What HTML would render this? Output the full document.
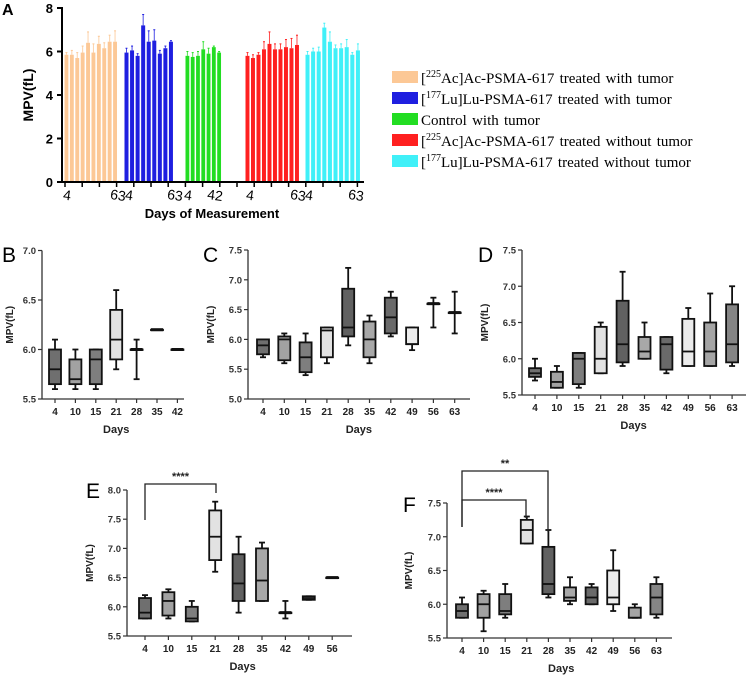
<!DOCTYPE html>
<html><head><meta charset="utf-8"><style>
body{margin:0;background:#fff;width:750px;height:677px;overflow:hidden}
svg{display:block;font-family:"Liberation Sans",sans-serif}
</style></head><body>
<svg id="s" width="750" height="677"></svg>
<script>
// ---- Panel A data ----
const aGroups=['ac-tumor','lu-tumor','control','ac-no-tumor','lu-no-tumor'];
const aColors=['#fcc896','#1f1fe0','#22dd22','#ff2020','#40f0f8'];
const aVals=[[5.85,5.85,5.7,5.95,6.4,5.95,6.35,6.15,6.45,6.45],[5.95,6.05,5.8,7.2,6.45,6.5,5.9,6.15,6.45],[5.8,5.75,5.8,6.1,5.9,6.2,5.95],[5.8,5.7,5.85,6.1,6.35,6.1,6.1,6.2,6.15,6.3],[5.85,6.0,6.0,7.1,6.45,6.15,6.15,6.2,5.85,6.05]];
const aErr=[[0.1,0.2,0.25,0.3,0.5,0.4,0.35,0.25,0.3,0.5],[0.2,0.2,0.1,0.5,0.5,0.5,0.15,0.1,0.05],[0.2,0.2,0.2,0.35,0.25,0.05,0.05],[0.15,0.15,0.1,0.35,0.55,0.25,0.25,0.35,0.45,0.45],[0.15,0.15,0.2,0.2,0.45,0.15,0.2,0.35,0.1,0.3]];
const aTicks=[0,2,4,6,8];
const legendLabels=[['225','Ac]Ac-PSMA-617 treated with tumor'],['177','Lu]Lu-PSMA-617 treated with tumor'],[null,'Control with tumor'],['225','Ac]Ac-PSMA-617 treated without tumor'],['177','Lu]Lu-PSMA-617 treated without tumor']];
// ---- Box panels data: [min, q1, median, q3, max] ----
const daysB=[4,10,15,21,28,35,42];
const boxesB=[[5.6,5.65,5.8,6.0,6.1],[5.6,5.65,5.7,5.9,6.0],[5.6,5.65,5.9,6.0,6.0],[5.8,5.9,6.1,6.4,6.6],[5.7,6.0,6.0,6.0,6.1],[6.2,6.2,6.2,6.2,6.2],[6.0,6.0,6.0,6.0,6.0]];
const daysC=[4,10,15,21,28,35,42,49,56,63];
const boxesC=[[5.7,5.75,5.9,6.0,6.0],[5.6,5.65,6.0,6.05,6.1],[5.4,5.45,5.7,5.95,6.1],[5.6,5.7,6.15,6.2,6.2],[5.9,6.05,6.2,6.85,7.2],[5.6,5.7,6.0,6.3,6.4],[6.05,6.1,6.37,6.7,6.8],[5.82,5.92,5.92,6.2,6.2],[6.2,6.6,6.6,6.6,6.7],[6.1,6.45,6.45,6.45,6.8]];
const daysD=[4,10,15,21,28,35,42,49,56,63];
const boxesD=[[5.7,5.75,5.8,5.87,6.0],[5.6,5.6,5.68,5.82,5.9],[5.6,5.65,6.0,6.08,6.08],[5.8,5.8,6.0,6.44,6.5],[5.9,5.95,6.2,6.8,7.2],[6.0,6.0,6.1,6.3,6.5],[5.8,5.85,6.2,6.3,6.3],[5.9,5.9,6.1,6.55,6.7],[5.9,5.9,6.1,6.5,6.9],[5.9,5.95,6.2,6.75,7.0]];
const daysE=[4,10,15,21,28,35,42,49,56];
const boxesE=[[5.8,5.8,5.9,6.15,6.2],[5.8,5.85,6.1,6.25,6.3],[5.75,5.75,5.8,6.0,6.1],[6.6,6.8,7.2,7.65,7.8],[5.9,6.1,6.4,6.9,7.2],[6.1,6.1,6.45,7.0,7.1],[5.8,5.9,5.9,5.9,6.1],[6.12,6.12,6.15,6.18,6.18],[6.5,6.5,6.5,6.5,6.5]];
const daysF=[4,10,15,21,28,35,42,49,56,63];
const boxesF=[[5.8,5.8,5.9,6.0,6.1],[5.6,5.8,6.0,6.15,6.2],[5.8,5.85,5.9,6.15,6.3],[6.9,6.9,7.1,7.25,7.3],[6.1,6.15,6.3,6.85,7.1],[6.0,6.05,6.1,6.25,6.4],[6.0,6.0,6.1,6.25,6.3],[5.9,6.0,6.1,6.5,6.8],[5.8,5.8,5.8,5.95,6.0],[5.8,5.85,6.1,6.3,6.4]];
const shades=['#6f6f6f','#a2a2a2','#7e7e7e','#e2e2e2','#616161','#a8a8a8','#6a6a6a','#ececec','#a5a5a5','#858585'];

const NS='http://www.w3.org/2000/svg',S=document.getElementById('s');
function el(t,a,p){const e=document.createElementNS(NS,t);for(const k in a)e.setAttribute(k,a[k]);(p||S).appendChild(e);return e;}
function tx(x,y,s,a,p){const e=el('text',Object.assign({x:x,y:y},a),p);e.textContent=s;return e;}

// ---- Panel A ----
const gA=el('g',{});


tx(2,15,'A',{'font-size':16,'font-weight':'bold'},gA);
const ay=v=>182-v*21.75;
const groupX=[[64,118],[124,174],[185,222],[245,300],[305,361]];
aVals.forEach((vals,g)=>{
  const [x0,x1]=groupX[g],n=vals.length,step=(x1-x0)/n;
  vals.forEach((v,i)=>{
    const x=x0+i*step+0.5,w=step*0.72;
    const b=el('rect',{x:x,y:ay(v),width:w,height:ay(0)-ay(v),fill:aColors[g]},gA);
    
    
    el('line',{x1:x+w/2,x2:x+w/2,y1:ay(v),y2:ay(v+aErr[g][i]),stroke:aColors[g],'stroke-width':1,opacity:0.8},gA);
    el('line',{x1:x+w/2-1,x2:x+w/2+1,y1:ay(v+aErr[g][i]),y2:ay(v+aErr[g][i]),stroke:aColors[g],'stroke-width':1},gA);
  });
});
el('line',{x1:62,x2:62,y1:7,y2:183,stroke:'#000','stroke-width':2},gA);
el('line',{x1:61,x2:364,y1:182,y2:182,stroke:'#000','stroke-width':2},gA);
aTicks.forEach(t=>{el('line',{x1:57,x2:62,y1:ay(t),y2:ay(t),stroke:'#000','stroke-width':2},gA);tx(53,ay(t)+5,t,{'font-size':13,'font-weight':'bold','text-anchor':'end'},gA);});
for(let x=65;x<364;x+=17.2)el('line',{x1:x,x2:x,y1:182,y2:187,stroke:'#000','stroke-width':1.5},gA);
const yA=tx(0,0,'MPV(fL)',{'font-size':14,'font-weight':'bold','text-anchor':'middle',transform:'translate(33,95) rotate(-90)'},gA);

[['4',67],['63',118],['4',129],['63',175],['4',188],['42',215],['4',250],['63',298],['4',309],['63',356]].forEach(([s,x])=>tx(x,200,s,{'font-size':14,'text-anchor':'middle',transform:'rotate(8 '+x+' 196)'},gA));
const xA=tx(212,218,'Days of Measurement',{'font-size':13,'font-weight':'bold','text-anchor':'middle'},gA);

legendLabels.forEach((L,i)=>{
  const y=71+i*21;
  const g=el('g',{},gA);
  
  
  el('rect',{x:392,y:y,width:26,height:12,fill:aColors[i]},g);
  const t=el('text',{x:421,y:y+12,'font-size':15,'word-spacing':1.5,'font-family':'"Liberation Serif",serif'},g);
  if(L[0]){t.innerHTML='[<tspan font-size="10" dy="-6">'+L[0]+'</tspan><tspan dy="6">'+L[1]+'</tspan>';}else t.textContent=L[1];
});

// ---- Box panels ----
function boxPanel(o,days,boxes){
  const g=el('g',{});
  
  
  tx(o.lx,o.ly,o.id.toUpperCase(),{'font-size':21,'font-family':'"Liberation Sans",sans-serif'},g);
  const y=v=>o.y0-(v-o.vmin)*o.ppu;
  o.ticks.forEach(t=>{el('line',{x1:o.ax-4,x2:o.ax,y1:y(t),y2:y(t),stroke:'#333','stroke-width':1.2},g);tx(o.ax-6,y(t)+3.5,t.toFixed(1),{'font-size':9.5,'font-weight':'bold',fill:'#333','text-anchor':'end'},g);});
  el('line',{x1:o.ax,x2:o.ax,y1:y(o.ticks[o.ticks.length-1]),y2:o.y0,stroke:'#333','stroke-width':1.3},g);
  el('line',{x1:o.ax,x2:o.xend,y1:o.y0,y2:o.y0,stroke:'#333','stroke-width':1.3},g);
  const yt=tx(0,0,'MPV(fL)',{'font-size':10,'font-weight':'bold',fill:'#222','text-anchor':'middle',transform:'translate('+o.ytx+','+(o.y0+y(o.ticks[o.ticks.length-1]))/2+') rotate(-90)'},g);
  
  days.forEach((d,i)=>{
    const x=o.x0+i*o.dx,b=boxes[i],w=o.bw;
    el('line',{x1:x,x2:x,y1:o.y0,y2:o.y0+4,stroke:'#333','stroke-width':1.2},g);
    tx(x,o.y0+16,d,{'font-size':10,'font-weight':'bold',fill:'#222','text-anchor':'middle'},g);
    const bg=el('g',{},g);
    
    
    el('line',{x1:x,x2:x,y1:y(b[0]),y2:y(b[4]),stroke:'#111','stroke-width':1.8},bg);
    el('line',{x1:x-3,x2:x+3,y1:y(b[0]),y2:y(b[0]),stroke:'#111','stroke-width':1.8},bg);
    el('line',{x1:x-3,x2:x+3,y1:y(b[4]),y2:y(b[4]),stroke:'#111','stroke-width':1.8},bg);
    el('rect',{x:x-w/2,y:y(b[3]),width:w,height:Math.max(0.5,y(b[1])-y(b[3])),fill:shades[i%shades.length],stroke:'#111','stroke-width':1.8},bg);
    el('line',{x1:x-w/2,x2:x+w/2,y1:y(b[2]),y2:y(b[2]),stroke:'#111','stroke-width':b[1]===b[3]?3:1.8},bg);
  });
  const xt=tx(o.x0+(days.length-1)*o.dx/2+o.dxTitle,o.y0+34,'Days',{'font-size':11,'font-weight':'bold',fill:'#222','text-anchor':'middle'},g);
  
  return {g:g,y:y};
}
boxPanel({id:'b',lx:2,ly:262,ax:42,y0:399,vmin:5.5,ppu:99,ticks:[5.5,6.0,6.5,7.0],xend:184,x0:55,dx:20.4,bw:12,ytx:13,dxTitle:0},daysB,boxesB);
boxPanel({id:'c',lx:203,ly:262,ax:248,y0:399,vmin:5.0,ppu:59.6,ticks:[5.0,5.5,6.0,6.5,7.0,7.5],xend:470,x0:263,dx:21.3,bw:12,ytx:214,dxTitle:0},daysC,boxesC);
boxPanel({id:'d',lx:478,ly:262,ax:522,y0:395,vmin:5.5,ppu:72.5,ticks:[5.5,6.0,6.5,7.0,7.5],xend:746,x0:535,dx:21.9,bw:12,ytx:488,dxTitle:0},daysD,boxesD);
const pE=boxPanel({id:'e',lx:86,ly:498,ax:127,y0:636,vmin:5.5,ppu:58.4,ticks:[5.5,6.0,6.5,7.0,7.5,8.0],xend:352,x0:145,dx:23.4,bw:12,ytx:93,dxTitle:4},daysE,boxesE);
const pF=boxPanel({id:'f',lx:403,ly:512,ax:447,y0:638,vmin:5.5,ppu:67.5,ticks:[5.5,6.0,6.5,7.0,7.5],xend:672,x0:462,dx:21.6,bw:12,ytx:412,dxTitle:2},daysF,boxesF);
// significance brackets
function bracket(g,x1,x2,yt,yl,yr,stars,sy){
  const b=el('g',{},g);
  
  
  el('polyline',{points:x1+','+yl+' '+x1+','+yt+' '+x2+','+yt+' '+x2+','+yr,fill:'none',stroke:'#222','stroke-width':1.3},b);
  tx((x1+x2)/2,sy,stars,{'font-size':11,'font-weight':'bold','text-anchor':'middle',fill:'#222'},b);
}
bracket(pE.g,145,216,484,520,493,'****',480);
bracket(pF.g,462,548,471,527,532,'**',467);
bracket(pF.g,462,526,500,527,518,'****',496);
</script>
</body></html>
